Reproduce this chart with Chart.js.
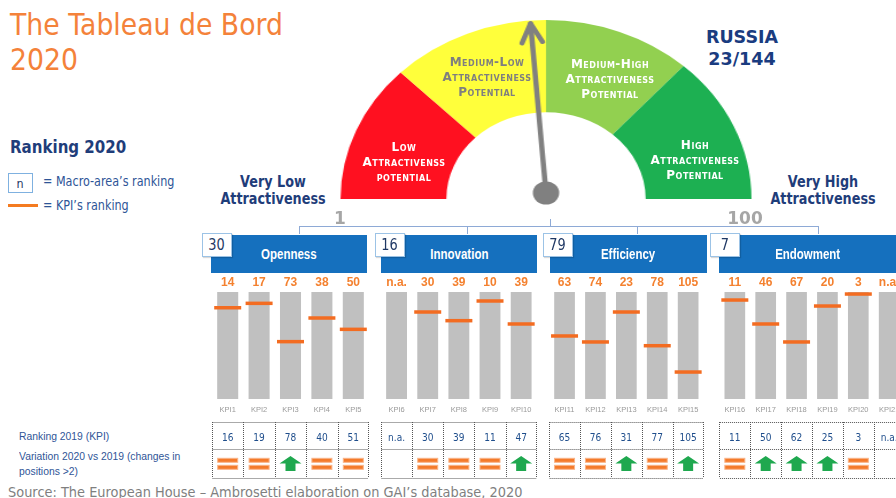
<!DOCTYPE html>
<html><head><meta charset="utf-8">
<script src="https://cdn.jsdelivr.net/npm/chart.js@4.4.1/dist/chart.umd.min.js"></script>
<style>
html,body{margin:0;padding:0;background:#fff;}
body{width:896px;height:498px;overflow:hidden;position:relative;font-family:"DejaVu Sans",sans-serif;}
.a{position:absolute;white-space:nowrap;line-height:1;}
.tl{transform-origin:0 0;}
.tc{text-align:center;}
.navy{color:#1f3d7a;font-weight:bold;}
.ln{position:absolute;background:#8eaad6;}
.hdr{position:absolute;top:235px;height:38px;background:#1570be;color:#fff;font:bold 14px "Liberation Sans",sans-serif;display:flex;align-items:center;justify-content:center;}
.hdr span{display:inline-block;transform:scaleX(.82);}
.nbox{position:absolute;top:233px;width:30px;height:24px;background:#fff;border:1.5px solid #9cc3e6;box-sizing:border-box;box-shadow:1px 1px 1px rgba(0,0,0,.15);color:#1f3864;font:15px "DejaVu Sans",sans-serif;display:flex;align-items:center;justify-content:center;}
.nbox span{display:inline-block;transform:scaleX(.86);}
.gl{position:absolute;font:bold 12px "DejaVu Sans",sans-serif;font-variant:small-caps;letter-spacing:.5px;text-align:center;line-height:15px;transform:translateX(-50%);white-space:nowrap;}
.panel{position:absolute;top:272px;height:208px;}
.gauge{position:absolute;left:366.5px;top:20px;width:358px;height:199px;transform:scaleX(1.148);transform-origin:50% 0;}
</style>
</head><body>

<div class="a tl" style="left:10px;top:7px;font-size:30px;line-height:35px;color:#f4823a;transform:scaleX(.89);">The Tableau de Bord<br>2020</div>
<div class="a tl navy" style="left:10px;top:139px;font-size:17.5px;transform:scaleX(.86);">Ranking 2020</div>

<div class="a" style="left:8px;top:173px;width:25px;height:20px;border:1.5px solid #7fb1e0;box-sizing:border-box;color:#1f3864;font-size:13px;display:flex;align-items:center;justify-content:center;"><span style="transform:scaleX(.86);display:inline-block">n</span></div>
<div class="a tl" style="left:43px;top:175.3px;font-size:13.5px;color:#2e5597;transform:scaleX(.83);">= Macro-area’s ranking</div>
<div class="a" style="left:8px;top:204px;width:30px;height:3px;background:#f47b20;"></div>
<div class="a tl" style="left:43px;top:198.6px;font-size:13.5px;color:#2e5597;transform:scaleX(.83);">= KPI’s ranking</div>

<div class="a navy tc" style="left:272.5px;top:174.4px;font-size:16px;line-height:16.7px;transform:translateX(-50%) scaleX(.8);">Very Low<br>Attractiveness</div>
<div class="a navy tc" style="left:822.5px;top:174.4px;font-size:16px;line-height:16.7px;transform:translateX(-50%) scaleX(.8);">Very High<br>Attractiveness</div>
<div class="a navy tc" style="left:742px;top:25.5px;font-size:17.5px;line-height:22.3px;color:#1a3c80;transform:translateX(-50%);">RUSSIA<br>23/144</div>

<div class="gauge"><canvas id="gauge"></canvas></div>
<div class="gl" style="left:404px;top:140px;color:#fff;">Low<br>Attractivenss<br>potential</div>
<div class="gl" style="left:487px;top:55px;color:#7f7f7f;">Medium-Low<br>Attractiveness<br>Potential</div>
<div class="gl" style="left:610px;top:56.7px;color:#fff;">Medium-High<br>Attractiveness<br>Potential</div>
<div class="gl" style="left:695px;top:138.3px;color:#fff;">High<br>Attractiveness<br>Potential</div>

<div class="a tc" style="left:340px;top:209.6px;font-size:17px;font-weight:bold;color:#a6a6a6;transform:translateX(-50%);">1</div>
<div class="a tc" style="left:745px;top:209.6px;font-size:17px;font-weight:bold;color:#a6a6a6;transform:translateX(-50%);">100</div>

<div class="ln" style="left:299px;top:226px;width:520px;height:1px;"></div>
<div class="ln" style="left:299px;top:226px;width:1px;height:8px;"></div>
<div class="ln" style="left:467px;top:226px;width:1px;height:8px;"></div>
<div class="ln" style="left:637px;top:226px;width:1px;height:8px;"></div>
<div class="ln" style="left:818px;top:226px;width:1px;height:8px;"></div>
<div class="ln" style="left:550px;top:219px;width:1px;height:8px;"></div>

<div id="headers"></div>
<div class="panel" style="left:212px;width:157px;"><canvas id="p0"></canvas></div>
<div class="panel" style="left:381px;width:157px;"><canvas id="p1"></canvas></div>
<div class="panel" style="left:548px;width:157px;"><canvas id="p2"></canvas></div>
<div class="panel" style="left:718px;width:188px;"><canvas id="p3"></canvas></div>

<div class="a tl" style="left:19px;top:429.7px;font:11px 'Liberation Sans',sans-serif;color:#2f5597;transform:scaleX(.94);">Ranking 2019 (KPI)</div>
<div class="a tl" style="left:19px;top:448.7px;font:11px 'Liberation Sans',sans-serif;line-height:15px;color:#2f5597;transform:scaleX(.94);">Variation 2020 vs 2019 (changes in<br>positions &gt;2)</div>

<div class="a tl" style="left:8px;top:485px;font-size:14px;color:#7f7f7f;transform:scaleX(.925);">Source: The European House – Ambrosetti elaboration on GAI’s database, 2020</div>

<script>
// ---------------- DATA ----------------
const macroAreas = ['Openness', 'Innovation', 'Efficiency', 'Endowment'];
const macroRanks = ['30', '16', '79', '7'];
const groupSizes = [5, 5, 5, 6];
const kpiNames = ['KPI1','KPI2','KPI3','KPI4','KPI5','KPI6','KPI7','KPI8','KPI9','KPI10',
                  'KPI11','KPI12','KPI13','KPI14','KPI15','KPI16','KPI17','KPI18','KPI19','KPI20','KPI21'];
const rank2020 = ['14','17','73','38','50','n.a.','30','39','10','39','63','74','23','78','105','11','46','67','20','3','n.a.'];
// marker position along each KPI bar (0 = top/best, 100 = bottom)
const kpiPosition = [14.7,10.6,46.4,24.3,34.9,null,18.7,26.8,8.4,29.9,41.1,46.7,18.7,50.2,74.8,7.5,29.9,46.7,13.1,1.9,null];
const rank2019 = ['16','19','78','40','51','n.a.','30','39','11','47','65','76','31','77','105','11','50','62','25','3','n.a.'];
const variation = ['eq','eq','up','eq','eq','','eq','eq','eq','up','eq','eq','up','eq','up','eq','up','up','up','eq',''];
const barRange = [0, 100];
const gaugeBandNames = ['Low', 'Medium-Low', 'Medium-High', 'High'];
const gaugeBands = [45, 45, 42, 48];
const gaugeScale = [1, 100];
const needleValue = 48;

// ---------------- HEADERS ----------------
const hdrBox = [[211,156,202],[381,156,375],[550,157,543],[719,178,710]];
const H = document.getElementById('headers');
macroAreas.forEach((m,i)=>{
  const [l,w,bl] = hdrBox[i];
  H.insertAdjacentHTML('beforeend',
    `<div class="hdr" style="left:${l}px;width:${w}px;"><span>${m}</span></div>`+
    `<div class="nbox" style="left:${bl}px;"><span>${macroRanks[i]}</span></div>`);
});

// ---------------- GAUGE ----------------
const needlePlugin = {
  id:'needle',
  afterDatasetsDraw(chart){
    const arc = chart.getDatasetMeta(0).data[0];
    const ctx = chart.ctx;
    const cx = arc.x, cy = arc.y - 6, R = arc.outerRadius;
    const t = Math.PI * (needleValue - gaugeScale[0]) / (gaugeScale[1] - gaugeScale[0]);
    const dx = -Math.cos(t), dy = -Math.sin(t);
    const L = R - 9;
    const tx = cx + dx*L, ty = cy + dy*L;
    ctx.save();
    ctx.strokeStyle = '#808080'; ctx.fillStyle = '#808080';
    ctx.lineWidth = 4.5; ctx.lineCap = 'round'; ctx.lineJoin = 'round';
    ctx.beginPath(); ctx.moveTo(cx, cy); ctx.lineTo(tx, ty); ctx.stroke();
    const px = -dy, py = dx, back = 19, side = 9;
    ctx.beginPath();
    ctx.moveTo(tx - dx*back + px*side, ty - dy*back + py*side);
    ctx.lineTo(tx, ty);
    ctx.lineTo(tx - dx*back - px*side, ty - dy*back - py*side);
    ctx.stroke();
    ctx.beginPath(); ctx.arc(cx, cy, 11.5, 0, Math.PI*2); ctx.fill();
    ctx.restore();
  }
};
new Chart(document.getElementById('gauge'), {
  type:'doughnut',
  data:{labels:gaugeBandNames, datasets:[{data:gaugeBands, backgroundColor:['#ff1020','#ffff3b','#92d050','#1db052'], borderWidth:0}]},
  options:{rotation:-90, circumference:180, cutout:'48.5%', responsive:true, maintainAspectRatio:false,
    animation:false, events:[], layout:{padding:{bottom:20}},
    plugins:{legend:{display:false}, tooltip:{enabled:false}}},
  plugins:[needlePlugin]
});

// ---------------- PANELS ----------------
function tablePlugin(r19, vari){
  return {
    id:'table',
    afterDraw(chart){
      const ctx = chart.ctx, xs = chart.scales.x, n = r19.length;
      const slot = (xs.right - xs.left) / n;
      const T = xs.bottom + 5, M = T + 27, B = T + 56;
      const L = xs.left, Rr = xs.right;
      ctx.save();
      ctx.setLineDash([1,1]);
      ctx.strokeStyle = '#555'; ctx.lineWidth = 1;
      ctx.beginPath();
      ctx.moveTo(L+0.5, Math.round(T)+0.5); ctx.lineTo(Rr-0.5, Math.round(T)+0.5);
      ctx.moveTo(L+0.5, Math.round(M)+0.5); ctx.lineTo(Rr-0.5, Math.round(M)+0.5);
      ctx.moveTo(L+0.5, Math.round(B)+0.5); ctx.lineTo(Rr-0.5, Math.round(B)+0.5);
      for (let i=0;i<=n;i++){
        const x = Math.round(L + i*slot) + (i===n ? -0.5 : 0.5);
        ctx.moveTo(x, T); ctx.lineTo(x, B);
      }
      ctx.stroke();
      ctx.setLineDash([]);
      for (let i=0;i<n;i++){
        const cx = xs.getPixelForValue(i);
        ctx.save();
        ctx.translate(cx, T + 18.7);
        ctx.scale(.86, 1);
        ctx.font = '10.5px "DejaVu Sans", sans-serif';
        ctx.fillStyle = '#1f4e8c'; ctx.textAlign = 'center'; ctx.textBaseline = 'alphabetic';
        ctx.fillText(r19[i], 0, 0);
        ctx.restore();
        if (vari[i] === 'eq'){
          ctx.fillStyle = '#f47b2b'; ctx.strokeStyle = '#f9b58a'; ctx.lineWidth = 1;
          ctx.fillRect(cx-10, T+36.3, 20, 4); ctx.strokeRect(cx-10, T+36.3, 20, 4);
          ctx.fillRect(cx-10, T+43.3, 20, 4); ctx.strokeRect(cx-10, T+43.3, 20, 4);
        } else if (vari[i] === 'up'){
          ctx.fillStyle = '#1fa84f';
          ctx.beginPath();
          ctx.moveTo(cx, T+34);
          ctx.lineTo(cx+11, T+41.5);
          ctx.lineTo(cx+5, T+41.5);
          ctx.lineTo(cx+5, T+49);
          ctx.lineTo(cx-5, T+49);
          ctx.lineTo(cx-5, T+41.5);
          ctx.lineTo(cx-11, T+41.5);
          ctx.closePath(); ctx.fill();
        }
      }
      ctx.restore();
    }
  };
}

let start = 0;
groupSizes.forEach((n, g)=>{
  const sl = a => a.slice(start, start+n);
  const labels = sl(kpiNames);
  new Chart(document.getElementById('p'+g), {
    type:'bar',
    data:{
      labels,
      datasets:[
        {type:'line', data:sl(kpiPosition), showLine:false, pointStyle:'line', pointRadius:13.5, pointHoverRadius:13.5,
         borderColor:'#f36c21', pointBorderColor:'#f36c21', pointBorderWidth:3.5, order:1, clip:false},
        {type:'bar', data:labels.map(()=>barRange), backgroundColor:'#c0c0c0', barPercentage:0.67, categoryPercentage:1, order:2}
      ]
    },
    options:{
      responsive:true, maintainAspectRatio:false, animation:false, events:[],
      layout:{autoPadding:false, padding:{top:0, bottom:63, left:0, right:0}},
      plugins:{legend:{display:false}, tooltip:{enabled:false}},
      scales:{
        x:{position:'bottom', offset:true, grid:{display:false, drawTicks:false}, border:{display:false},
           ticks:{padding:6.5, autoSkip:false, maxRotation:0, color:'#9a9a9a',
                  font:{size:7.5, family:"'Liberation Sans Narrow','Liberation Sans',sans-serif"}},
           afterFit(s){ s.height = 18; }},
        xTop:{type:'category', position:'top', labels:sl(rank2020), offset:true,
           grid:{display:false, drawTicks:false}, border:{display:false},
           ticks:{padding:2, autoSkip:false, maxRotation:0, color:'#f4812f',
                  font:{size:12, weight:'bold', family:"'Liberation Sans Narrow','Liberation Sans',sans-serif"}},
           afterFit(s){ s.height = 20; }},
        y:{display:false, min:barRange[0], max:barRange[1], reverse:true}
      }
    },
    plugins:[tablePlugin(sl(rank2019), sl(variation))]
  });
  start += n;
});
</script>
</body></html>
